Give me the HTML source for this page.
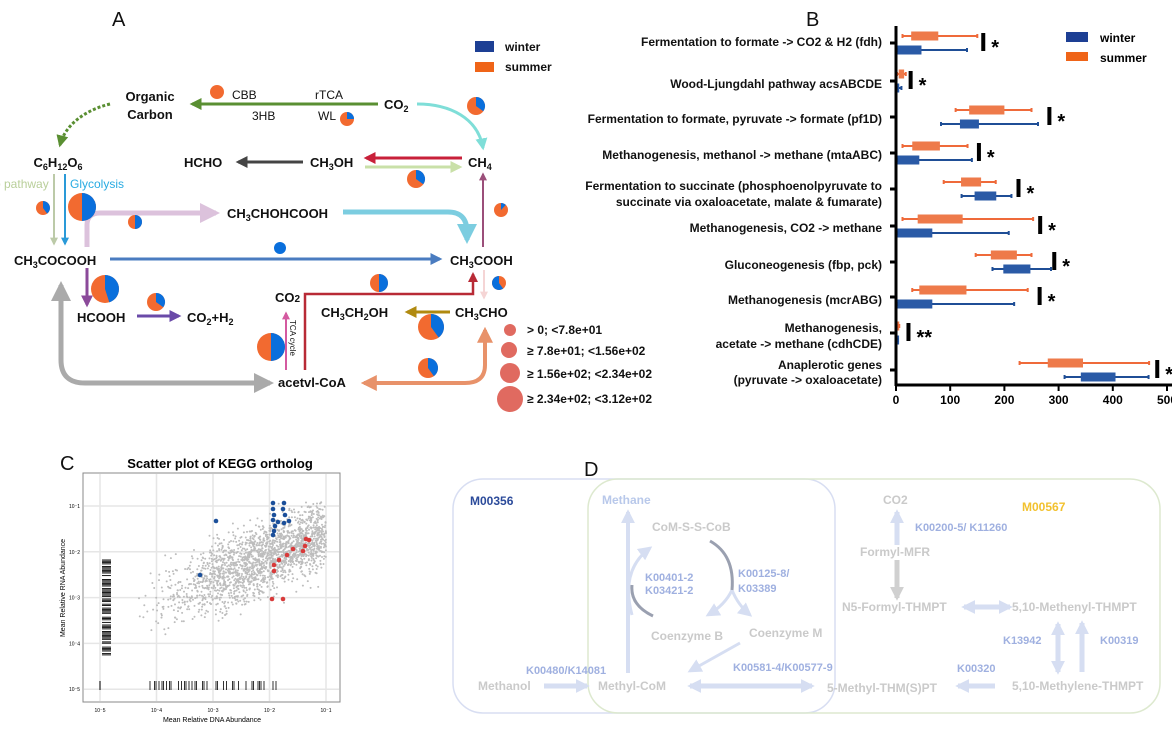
<!DOCTYPE html>
<html><head><meta charset="utf-8"><style>
body{margin:0;background:#fff;}
svg{display:block;font-family:"Liberation Sans",Arial,sans-serif;}
</style></head><body>
<svg id="s" width="1172" height="740" viewBox="0 0 1172 740" xmlns="http://www.w3.org/2000/svg">
<defs>
<marker id="mk" viewBox="0 0 10 10" refX="8" refY="5" markerWidth="4" markerHeight="4" orient="auto-start-reverse"><path d="M0,0L10,5L0,10z" fill="context-stroke"/></marker>
<marker id="mk2" viewBox="0 0 10 10" refX="8" refY="5" markerWidth="14" markerHeight="14" markerUnits="userSpaceOnUse" orient="auto-start-reverse"><path d="M0,0L10,5L0,10z" fill="context-stroke"/></marker>
</defs>
<g id="A" font-weight="bold" font-size="13" fill="#111">
<text x="112" y="26" font-size="20" font-weight="normal">A</text>
<text x="806" y="26" font-size="20" font-weight="normal">B</text>
<text x="60" y="470" font-size="20" font-weight="normal">C</text>
<text x="584" y="476" font-size="20" font-weight="normal">D</text>
<rect x="475" y="41" width="19" height="11" fill="#1d3f94"/><text x="505" y="51" font-size="12">winter</text>
<rect x="475" y="62" width="19" height="10" fill="#ef6418"/><text x="505" y="71" font-size="12">summer</text>

<text x="150" y="101" text-anchor="middle">Organic</text><text x="150" y="119" text-anchor="middle">Carbon</text>
<text x="384" y="109">CO<tspan font-size="9" dy="3">2</tspan></text>
<g font-weight="normal" font-size="12"><text x="232" y="99">CBB</text><text x="315" y="99">rTCA</text><text x="252" y="120">3HB</text><text x="318" y="120">WL</text></g>
<text x="58" y="167" text-anchor="middle">C<tspan font-size="9" dy="3">6</tspan><tspan dy="-3">H</tspan><tspan font-size="9" dy="3">12</tspan><tspan dy="-3">O</tspan><tspan font-size="9" dy="3">6</tspan></text>
<text x="184" y="167">HCHO</text>
<text x="310" y="167">CH<tspan font-size="9" dy="3">3</tspan><tspan dy="-3">OH</tspan></text>
<text x="468" y="167">CH<tspan font-size="9" dy="3">4</tspan></text>
<text x="-6" y="188" font-weight="normal" font-size="12" fill="#b9cf9a">o pathway</text>
<text x="70" y="188" font-weight="normal" font-size="12" fill="#29abe2">Glycolysis</text>
<text x="227" y="218">CH<tspan font-size="9" dy="3">3</tspan><tspan dy="-3">CHOHCOOH</tspan></text>
<text x="14" y="265">CH<tspan font-size="9" dy="3">3</tspan><tspan dy="-3">COCOOH</tspan></text>
<text x="450" y="265">CH<tspan font-size="9" dy="3">3</tspan><tspan dy="-3">COOH</tspan></text>
<text x="77" y="322">HCOOH</text>
<text x="187" y="322">CO<tspan font-size="9" dy="3">2</tspan><tspan dy="-3">+H</tspan><tspan font-size="9" dy="3">2</tspan></text>
<text x="275" y="302">CO<tspan font-size="10">2</tspan></text>
<text x="321" y="317">CH<tspan font-size="9" dy="3">3</tspan><tspan dy="-3">CH</tspan><tspan font-size="9" dy="3">2</tspan><tspan dy="-3">OH</tspan></text>
<text x="455" y="317">CH<tspan font-size="9" dy="3">3</tspan><tspan dy="-3">CHO</tspan></text>
<text x="278" y="387">acetvl-CoA</text>
<text transform="translate(290,320) rotate(90)" font-size="8" font-weight="normal">TCA cycle</text>
<g font-size="12"><text x="527" y="334">&gt; 0; &lt;7.8e+01</text><text x="527" y="355">≥  7.8e+01; &lt;1.56e+02</text><text x="527" y="378">≥ 1.56e+02; &lt;2.34e+02</text><text x="527" y="403">≥ 2.34e+02; &lt;3.12e+02</text></g>
<g fill="#e06a60"><circle cx="510" cy="330" r="6"/><circle cx="509" cy="350" r="8"/><circle cx="510" cy="373" r="10"/><circle cx="510" cy="399" r="13"/></g>
</g>
<g fill="none" stroke-width="3">
<path d="M378,104H192" stroke="#5a8f32" marker-end="url(#mk)"/>
<path d="M417,104C450,104 478,118 483,148" stroke="#7fded8" marker-end="url(#mk)"/>
<path d="M110,104C85,110 65,125 60,145" stroke="#5a8f32" stroke-dasharray="3,2" marker-end="url(#mk)"/>
<path d="M303,162H238" stroke="#444" marker-end="url(#mk)"/>
<path d="M462,158H366" stroke="#c8203a" marker-end="url(#mk)"/>
<path d="M365,167H460" stroke="#c9e0a8" marker-end="url(#mk)"/>
<path d="M54,174V244" stroke="#bccaa8" stroke-width="2" marker-end="url(#mk)"/>
<path d="M65,174V244" stroke="#2a9ad8" stroke-width="2" marker-end="url(#mk)"/>
<path d="M87,247V225Q87,213 100,213H216" stroke="#dcc2dc" stroke-width="5" marker-end="url(#mk)"/>
<path d="M343,212H448Q467,212 467,232V240" stroke="#7ccde0" stroke-width="5" marker-end="url(#mk)"/>
<path d="M483,247V174" stroke="#9b4f7a" stroke-width="2" marker-end="url(#mk)"/>
<path d="M110,259H440" stroke="#4a7cc0" marker-end="url(#mk)"/>
<path d="M87,268V305" stroke="#8b4a9a" marker-end="url(#mk)"/>
<path d="M137,316H179" stroke="#6a4aa8" marker-end="url(#mk)"/>
<path d="M61,285V360Q61,383 85,383H270" stroke="#aaa" stroke-width="5" marker-start="url(#mk)" marker-end="url(#mk)"/>
<path d="M485,330V365Q485,383 465,383H364" stroke="#e8926a" stroke-width="4" marker-start="url(#mk)" marker-end="url(#mk)"/>
<path d="M286,370V313" stroke="#d45aa0" stroke-width="2" marker-end="url(#mk)"/>
<path d="M305,370V294H473V274" stroke="#b82a36" stroke-width="2.5" marker-end="url(#mk)"/>
<path d="M450,312H407" stroke="#b08a10" marker-end="url(#mk)"/>
<path d="M484,270V298" stroke="#f5d5d5" stroke-width="2" marker-end="url(#mk)"/>
</g>
<circle cx="280" cy="248" r="6" fill="#0a6fdc"/>
<g id="pies"></g>
<g id="B"></g>
<g id="C"></g>
<g id="D" font-weight="bold" font-size="12">
<rect x="453" y="479" width="382" height="234" rx="30" fill="none" stroke="#d8def2" stroke-width="1.5"/>
<rect x="588" y="479" width="572" height="234" rx="30" fill="none" stroke="#dde9cf" stroke-width="1.5"/>
<g fill="none" stroke="#d6def2" stroke-width="5">
<path d="M628,673V512" stroke-width="4" marker-end="url(#mk2)"/>
<path d="M544,686H587" marker-end="url(#mk2)"/>
<path d="M690,686H812" marker-start="url(#mk2)" marker-end="url(#mk2)"/>
<path d="M995,686H958" marker-end="url(#mk2)"/>
<path d="M1058,624V672" marker-start="url(#mk2)" marker-end="url(#mk2)"/>
<path d="M1082,672V623" marker-end="url(#mk2)"/>
<path d="M964,607H1010" marker-start="url(#mk2)" marker-end="url(#mk2)"/>
<path d="M897,545V512" marker-end="url(#mk2)"/>
<path d="M740,643L690,671" stroke-width="3" marker-end="url(#mk2)"/>
<path d="M732,590Q725,605 708,615" stroke-width="3" marker-end="url(#mk2)"/>
<path d="M732,590Q738,605 750,615" stroke-width="3" marker-end="url(#mk2)"/>
<path d="M632,615Q620,570 650,548" stroke-width="3" marker-end="url(#mk2)"/>
</g>
<path d="M897,560V598" stroke="#d0d0d0" stroke-width="5" fill="none" marker-end="url(#mk2)"/>
<path d="M710,541Q735,555 732,590" stroke="#9aa0b0" stroke-width="3" fill="none"/>
<path d="M632,585Q630,605 653,616" stroke="#9aa0b0" stroke-width="3" fill="none"/>
<text x="470" y="505" fill="#2b4a9a">M00356</text>
<text x="1022" y="511" fill="#f2c12e">M00567</text>
<g fill="#cacaca">
<text x="602" y="504" fill="#b8c8ea">Methane</text>
<text x="883" y="504">CO2</text>
<text x="652" y="531">CoM-S-S-CoB</text>
<text x="860" y="556">Formyl-MFR</text>
<text x="842" y="611">N5-Formyl-THMPT</text>
<text x="1012" y="611">5,10-Methenyl-THMPT</text>
<text x="651" y="640">Coenzyme B</text>
<text x="749" y="637">Coenzyme M</text>
<text x="478" y="690">Methanol</text>
<text x="598" y="690">Methyl-CoM</text>
<text x="827" y="692">5-Methyl-THM(S)PT</text>
<text x="1012" y="690">5,10-Methylene-THMPT</text>
</g>
<g fill="#9fb0e0" font-size="11">
<text x="915" y="531">K00200-5/ K11260</text>
<text x="645" y="581">K00401-2</text><text x="645" y="594">K03421-2</text>
<text x="738" y="577">K00125-8/</text><text x="738" y="592">K03389</text>
<text x="1003" y="644">K13942</text><text x="1100" y="644">K00319</text>
<text x="526" y="674">K00480/K14081</text>
<text x="733" y="671">K00581-4/K00577-9</text>
<text x="957" y="672">K00320</text>
</g>
</g>
</svg>
<script>
var NS="http://www.w3.org/2000/svg";
function el(p,t,a,txt){var e=document.createElementNS(NS,t);for(var k in a)e.setAttribute(k,a[k]);if(txt!=null)e.textContent=txt;p.appendChild(e);return e;}
var P=document.getElementById('pies');
function pie(cx,cy,r,f,st){el(P,'circle',{cx:cx,cy:cy,r:r,fill:'#f26a30'});if(f<=0)return;
 st=st||0;var a0=st*2*Math.PI,a1=(st+f)*2*Math.PI;
 var x0=cx+r*Math.sin(a0),y0=cy-r*Math.cos(a0),x1=cx+r*Math.sin(a1),y1=cy-r*Math.cos(a1);
 el(P,'path',{d:'M'+cx+','+cy+'L'+x0+','+y0+'A'+r+','+r+' 0 '+(f>0.5?1:0)+' 1 '+x1+','+y1+'Z',fill:'#0a6fdc'});}
pie(217,92,7,0);pie(347,119,7,0.25);pie(476,106,9,0.35);pie(416,179,9,0.35);
pie(43,208,7,0.4);pie(82,207,14,0.5);pie(135,222,7,0.5);pie(501,210,7,0.12);
pie(105,289,14,0.45);pie(156,302,9,0.35);pie(271,347,14,0.5);pie(379,283,9,0.5);
pie(499,283,7,0.6,0.4);pie(431,327,13,0.4);pie(428,368,10,0.4);
var B=document.getElementById('B');var X0=896,S=0.542;
function xs(v){return X0+v*S;}
var labels=[["Fermentation to formate -> CO2 & H2 (fdh)",46],["Wood-Ljungdahl pathway  acsABCDE",88],["Fermentation to formate, pyruvate -> formate (pf1D)",123],["Methanogenesis, methanol -> methane (mtaABC)",159],["Fermentation to succinate (phosphoenolpyruvate to",190],["succinate via oxaloacetate, malate & fumarate)",206],["Methanogenesis, CO2 -> methane",232],["Gluconeogenesis (fbp, pck)",269],["Methanogenesis (mcrABG)",304],["Methanogenesis,",332],["acetate -> methane (cdhCDE)",348],["Anaplerotic genes",369],["(pyruvate -> oxaloacetate)",384]];
labels.forEach(function(l){el(B,'text',{x:882,y:l[1],'text-anchor':'end','font-weight':'bold','font-size':12,fill:'#111'},l[0]);});
var rows=[[43,[12,28,78,150],[2,2,47,131],161,'*'],[81,[2,5,15,18],[2,2,6,10],27,'*'],[117,[110,135,200,250],[83,118,153,262],283,'*'],[153,[12,30,81,132],[2,2,43,140],153,'*'],[189,[88,120,157,184],[121,145,185,213],226,'*'],[226,[12,40,123,253],[2,2,67,208],266,'*'],[262,[147,175,223,250],[178,198,248,286],292,'*'],[297,[30,43,130,243],[2,2,67,218],265,'*'],[333,[2,2,6,6],[2,2,3,3],23,'**'],[370,[228,280,345,467],[311,341,405,466],482,'*']];
rows.forEach(function(r){var y=r[0];
 [[r[1],y-7,'#ef6a3a','#ee7a4a'],[r[2],y+7,'#1f4e96','#2a5aa6']].forEach(function(q){var d=q[0],yy=q[1];
  el(B,'line',{x1:xs(d[0]),x2:xs(d[3]),y1:yy,y2:yy,stroke:q[2],'stroke-width':2});
  el(B,'rect',{x:xs(d[1]),y:yy-4.5,width:Math.max(2,xs(d[2])-xs(d[1])),height:9,fill:q[3]});
  el(B,'line',{x1:xs(d[0]),x2:xs(d[0]),y1:yy-2,y2:yy+2,stroke:q[2],'stroke-width':2});
  el(B,'line',{x1:xs(d[3]),x2:xs(d[3]),y1:yy-2,y2:yy+2,stroke:q[2],'stroke-width':2});});
 el(B,'rect',{x:xs(r[3])-2,y:y-10,width:4,height:18,fill:'#000'});
 el(B,'text',{x:xs(r[3])+8,y:y+11,'font-size':20,'font-weight':'bold'},r[4]);
 el(B,'line',{x1:890,x2:896,y1:y,y2:y,stroke:'#000','stroke-width':3});});
el(B,'line',{x1:896,x2:896,y1:26,y2:386,stroke:'#000','stroke-width':3});
el(B,'line',{x1:895,x2:1172,y1:385,y2:385,stroke:'#000','stroke-width':3});
for(var i=0;i<=5;i++){var xx=xs(i*100);el(B,'line',{x1:xx,x2:xx,y1:385,y2:391,stroke:'#000','stroke-width':2});
 el(B,'text',{x:xx,y:404,'text-anchor':'middle','font-size':12,'font-weight':'bold'},String(i*100));}
el(B,'rect',{x:1066,y:32,width:22,height:10,fill:'#1d3f94'});el(B,'text',{x:1100,y:42,'font-size':12,'font-weight':'bold'},'winter');
el(B,'rect',{x:1066,y:52,width:22,height:9,fill:'#ef6418'});el(B,'text',{x:1100,y:62,'font-size':12,'font-weight':'bold'},'summer');
var C=document.getElementById('C');
el(C,'text',{x:220,y:468,'text-anchor':'middle','font-size':13,'font-weight':'bold'},'Scatter plot of KEGG ortholog');
el(C,'rect',{x:83,y:473,width:257,height:229,fill:'#fff',stroke:'#888'});
function px(l){return 100+(l+5)*56.5;} function py(l){return 506+(-1-l)*45.8;}
for(var k=-5;k<=-1;k++){el(C,'line',{x1:px(k),x2:px(k),y1:474,y2:701,stroke:'#e6e6e6','stroke-width':1.5});
 el(C,'line',{x1:84,x2:339,y1:py(k),y2:py(k),stroke:'#e6e6e6','stroke-width':1.5});
 el(C,'text',{x:px(k),y:712,'font-size':5,'text-anchor':'middle'},'10'+'⁻'+(-k));
 el(C,'text',{x:80,y:py(k)+2,'font-size':5,'text-anchor':'end'},'10'+'⁻'+(-k));}
el(C,'text',{x:212,y:722,'font-size':7,'text-anchor':'middle'},'Mean Relative DNA Abundance');
el(C,'text',{transform:'translate(65,588) rotate(-90)','font-size':7,'text-anchor':'middle'},'Mean Relative RNA Abundance');
var seed=7;function rnd(){seed=(seed*16807)%2147483647;return seed/2147483647;}
function gn(){return (rnd()+rnd()+rnd()+rnd()-2)*1.2;}
var g='';
for(var i=0;i<2000;i++){var xl=-2.1+gn()*1.15; if(xl>-1.0)xl=-1.0-rnd()*0.5; if(xl<-4.6)continue;
 var yl=-2.1+0.5*(xl+2)+gn()*0.55; if(yl>-0.9)yl=-0.9-rnd()*0.3; if(yl<-4.4)continue;
 g+='<circle cx="'+px(xl).toFixed(1)+'" cy="'+py(yl).toFixed(1)+'" r="1" fill="#bdbdbd"/>';}
C.insertAdjacentHTML('beforeend',g);
var bl=[[273,503],[273,509],[274,515],[273,520],[275,526],[274,531],[273,535],[284,503],[283,509],[285,515],[278,522],[284,523],[289,521],[216,521],[200,575]];
bl.forEach(function(p){el(C,'circle',{cx:p[0],cy:p[1],r:2.3,fill:'#1b4f9a'});});
var rd=[[274,565],[274,571],[279,560],[287,555],[293,549],[303,551],[305,546],[309,540],[306,539],[272,599],[283,599]];
rd.forEach(function(p){el(C,'circle',{cx:p[0],cy:p[1],r:2.3,fill:'#d83a3a'});});
var r='';for(var yy=560;yy<656;yy+=1.3){if(rnd()<0.7)r+='<line x1="102" x2="111" y1="'+yy.toFixed(1)+'" y2="'+yy.toFixed(1)+'" stroke="#000" stroke-width="0.9"/>';}
r+='<line x1="100" x2="100" y1="681" y2="690" stroke="#000"/>';
for(var xx=150;xx<278;xx+=1.5){if(rnd()<0.5)r+='<line x1="'+xx.toFixed(1)+'" x2="'+xx.toFixed(1)+'" y1="681" y2="690" stroke="#000" stroke-width="0.8"/>';}
C.insertAdjacentHTML('beforeend',r);
</script>
</body></html>
